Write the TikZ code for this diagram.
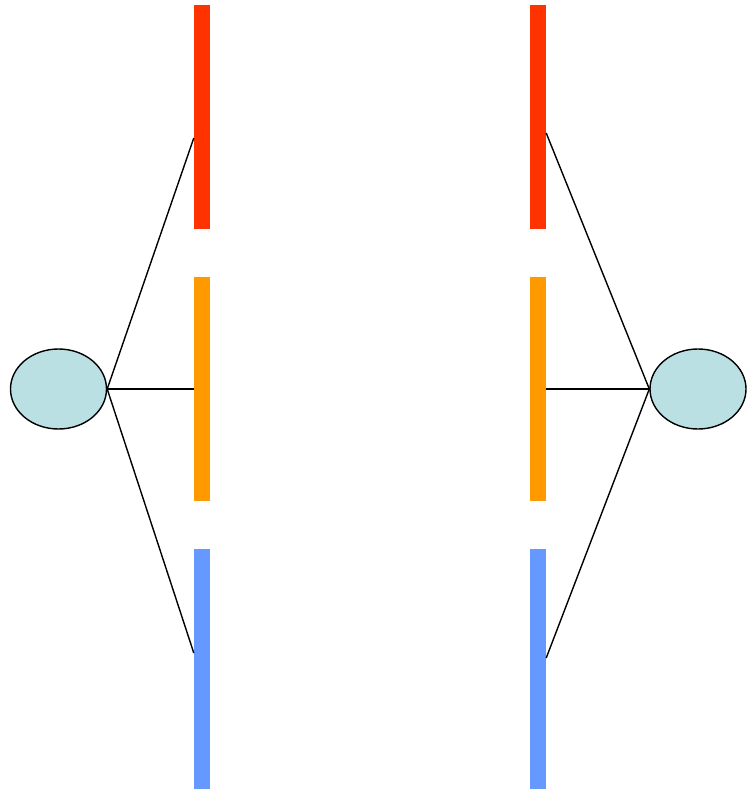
\documentclass[tikz,border=0pt]{standalone}
\usetikzlibrary{shapes.geometric}
\definecolor{barred}{HTML}{FF3300}
\definecolor{barorange}{HTML}{FF9900}
\definecolor{barblue}{HTML}{6699FF}
\definecolor{nodefill}{HTML}{BBE0E3}
\begin{document}
\begin{tikzpicture}[x=1pt, y=-1pt,
    hub/.style={ellipse, draw, line width=1.4pt, fill=nodefill,
        minimum width=96pt, minimum height=80pt, inner sep=0pt},
    bar/.style={rectangle, minimum width=16pt, inner sep=0pt},
    link/.style={line width=1.4pt}]
    \useasboundingbox (0,0) rectangle (746,791);

    % Ellipsen
    \node[hub] (lhub) at (58.5,389) {};
    \node[hub] (rhub) at (698,389) {};

    % Balken links
    \node[bar, fill=barred, minimum height=224pt] (lred) at (202,117) {};
    \node[bar, fill=barorange, minimum height=224pt] (lorange) at (202,389) {};
    \node[bar, fill=barblue, minimum height=240pt] (lblue) at (202,669) {};

    % Balken rechts
    \node[bar, fill=barred, minimum height=224pt] (rred) at (538,117) {};
    \node[bar, fill=barorange, minimum height=224pt] (rorange) at (538,389) {};
    \node[bar, fill=barblue, minimum height=240pt] (rblue) at (538,669) {};

    % Verbindungen
    \draw[link] (lhub.east) -- ([yshift=-21pt]lred.west);
    \draw[link] (lhub.east) -- (lorange.west);
    \draw[link] (lhub.east) -- ([yshift=16pt]lblue.west);
    \draw[link] (rhub.west) -- ([yshift=-16pt]rred.east);
    \draw[link] (rhub.west) -- (rorange.east);
    \draw[link] (rhub.west) -- ([yshift=11pt]rblue.east);
\end{tikzpicture}
\end{document}
